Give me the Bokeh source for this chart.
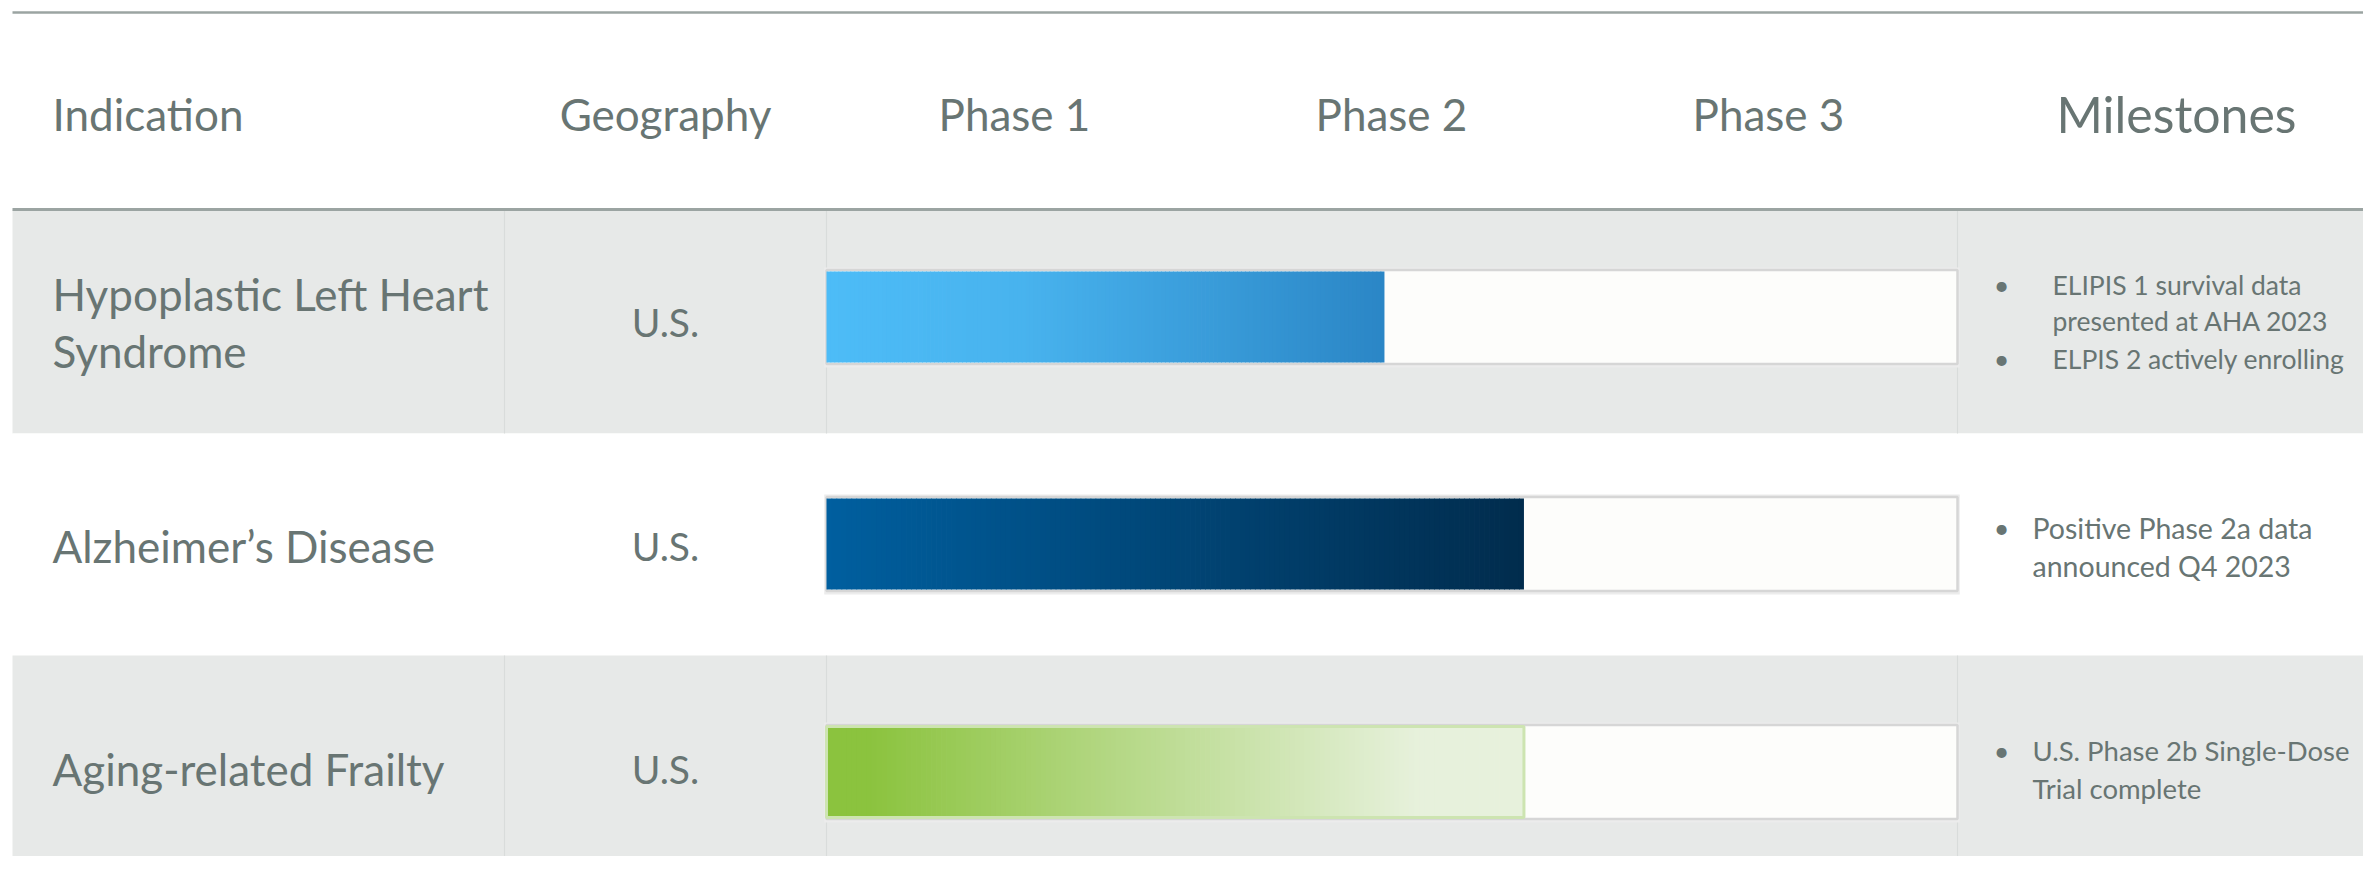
from bokeh.plotting import figure
from bokeh.models import Range1d
from bokeh.embed import file_html
from bokeh.resources import INLINE
from bokeh.core.properties import value

# ---------------- data ----------------
headers = ["Indication", "Geography", "Phase 1", "Phase 2", "Phase 3", "Milestones"]
indications = [["Hypoplastic Left Heart", "Syndrome"], ["Alzheimer’s Disease"], ["Aging-related Frailty"]]
geography = ["U.S.", "U.S.", "U.S."]
progress = [1.48, 1.85, 1.85]          # in phase units (0..3)
milestones = [
    [["ELIPIS 1 survival data", "presented at AHA 2023"], ["ELPIS 2 actively enrolling"]],
    [["Positive Phase 2a data", "announced Q4 2023"]],
    [["U.S. Phase 2b Single-Dose", "Trial complete"]],
]
n_phases = 3

# ---------------- styling ----------------
FONT = value("Lato")
TXT = "#687573"
GRAY_BG = "#e7e9e8"
RULE = "#9ba4a2"
DIV = "#d9dcdb"
gradients = [
    [(0.0, "#4dbcf7"), (0.35, "#48b3ee"), (1.0, "#2b86c6")],
    [(0.0, "#005f9f"), (1.0, "#012c4d")],
    [(0.0, "#8bc33e"), (0.06, "#8bc33e"), (0.85, "#e7f1dc"), (1.0, "#e7f1dc")],
]
bar_border = [None, None, "#cde4b1"]

W, H = 2363, 856
OX, OY = 0, 0
PH0, PHW = 826, 377.0   # px of phase 0 and px per phase (layout)

p = figure(width=W, height=H, output_backend="svg", toolbar_location=None,
           x_range=Range1d(OX, OX + W), y_range=Range1d(OY + H, OY),
           min_border=0, x_axis_location=None, y_axis_location=None)
p.extra_x_ranges = {"phase": Range1d((OX - PH0) / PHW, (OX + W - PH0) / PHW)}
p.xgrid.visible = False
p.ygrid.visible = False
p.outline_line_color = None
p.background_fill_color = "white"
p.border_fill_color = "white"

RIGHT = OX + W + 5
row_top = [209, 433, 655]
row_bot = [433, 655, 900]
row_bg = [GRAY_BG, "white", GRAY_BG]
col_div = [504, 826, 1957]

# row backgrounds
p.quad(left=[12] * 3, right=[RIGHT] * 3, top=row_top, bottom=row_bot,
       fill_color=row_bg, line_color=None)
# column dividers in gray rows
for i in range(3):
    if row_bg[i] != "white":
        p.segment(x0=col_div, x1=col_div, y0=[row_top[i]] * 3, y1=[row_bot[i]] * 3,
                  line_color=DIV, line_width=1.2)
# rules
p.segment(x0=[12, 12], x1=[RIGHT, RIGHT], y0=[12, 209], y1=[12, 209],
          line_color=RULE, line_width=[2.5, 3])

# headers
hx = [52, 665, 1014, 1391, 1768, 2176]
align = ["left", "center", "center", "center", "center", "center"]
hsize = ["44px", "44px", "44px", "44px", "44px", "50px"]
for t, x, a, s in zip(headers, hx, align, hsize):
    p.text(x=[x], y=[113], text=[t], text_font=FONT, text_font_size=s,
           text_color=TXT, text_align=a, text_baseline="middle")

# indication / geography text
ind_y = [[293, 350], [545], [768]]
geo_y = [321, 545, 768]
for i in range(3):
    p.text(x=[52] * len(indications[i]), y=ind_y[i], text=indications[i], text_font=FONT,
           text_font_size="44px", text_color=TXT, text_align="left", text_baseline="middle")
    p.text(x=[665], y=[geo_y[i]], text=[geography[i]], text_font=FONT,
           text_font_size="39px", text_color=TXT, text_align="center", text_baseline="middle")

# bars
bar_c = [316.5, 543.5, 771.5]
bh = 91
N = 140

def hex2rgb(h):
    h = h.lstrip("#")
    return tuple(int(h[k:k + 2], 16) for k in (0, 2, 4))

def interp(stops, t):
    for (t0, c0), (t1, c1) in zip(stops[:-1], stops[1:]):
        if t0 <= t <= t1:
            f = 0 if t1 == t0 else (t - t0) / (t1 - t0)
            a, b = hex2rgb(c0), hex2rgb(c1)
            return "#%02x%02x%02x" % tuple(round(a[k] + (b[k] - a[k]) * f) for k in range(3))
    return stops[-1][1]

for i in range(3):
    top = bar_c[i] - bh / 2
    bot = bar_c[i] + bh / 2
    # shadow / track
    p.quad(left=[-0.006], right=[n_phases + 0.006], top=[top - 4], bottom=[bot + 5],
           fill_color="#ececec", line_color=None, x_range_name="phase")
    p.quad(left=[0], right=[n_phases], top=[top - 1.5], bottom=[bot + 1.5],
           fill_color="#fdfdfb", line_color="#d6d6d6", line_width=2.5, x_range_name="phase")
    v = progress[i]
    lefts = [v * k / N for k in range(N)]
    rights = [v * (k + 1) / N + 0.002 for k in range(N)]
    rights[-1] = v
    cols = [interp(gradients[i], (k + 0.5) / N) for k in range(N)]
    p.quad(left=lefts, right=rights, top=[top] * N, bottom=[bot] * N,
           fill_color=cols, line_color=None, x_range_name="phase")
    if bar_border[i]:
        p.quad(left=[0], right=[v], top=[top], bottom=[bot], fill_color=None,
               line_color=bar_border[i], line_width=3, x_range_name="phase")

# milestones
ms_lines = [[[284, 320], [358]], [[527, 565]], [[750, 788]]]
ms_textx = [2052, 2032, 2032]
ms_size = ["26.5px", "28.5px", "27.5px"]
for i in range(3):
    for item, ys in zip(milestones[i], ms_lines[i]):
        p.text(x=[2001], y=[ys[0]], text=["•"], text_font=FONT, text_font_size="27px",
               text_color=TXT, text_align="center", text_baseline="middle")
        p.text(x=[ms_textx[i]] * len(item), y=ys, text=item, text_font=FONT,
               text_font_size=ms_size[i], text_color=TXT, text_align="left",
               text_baseline="middle")

open("out.html", "w").write(file_html(p, INLINE))
